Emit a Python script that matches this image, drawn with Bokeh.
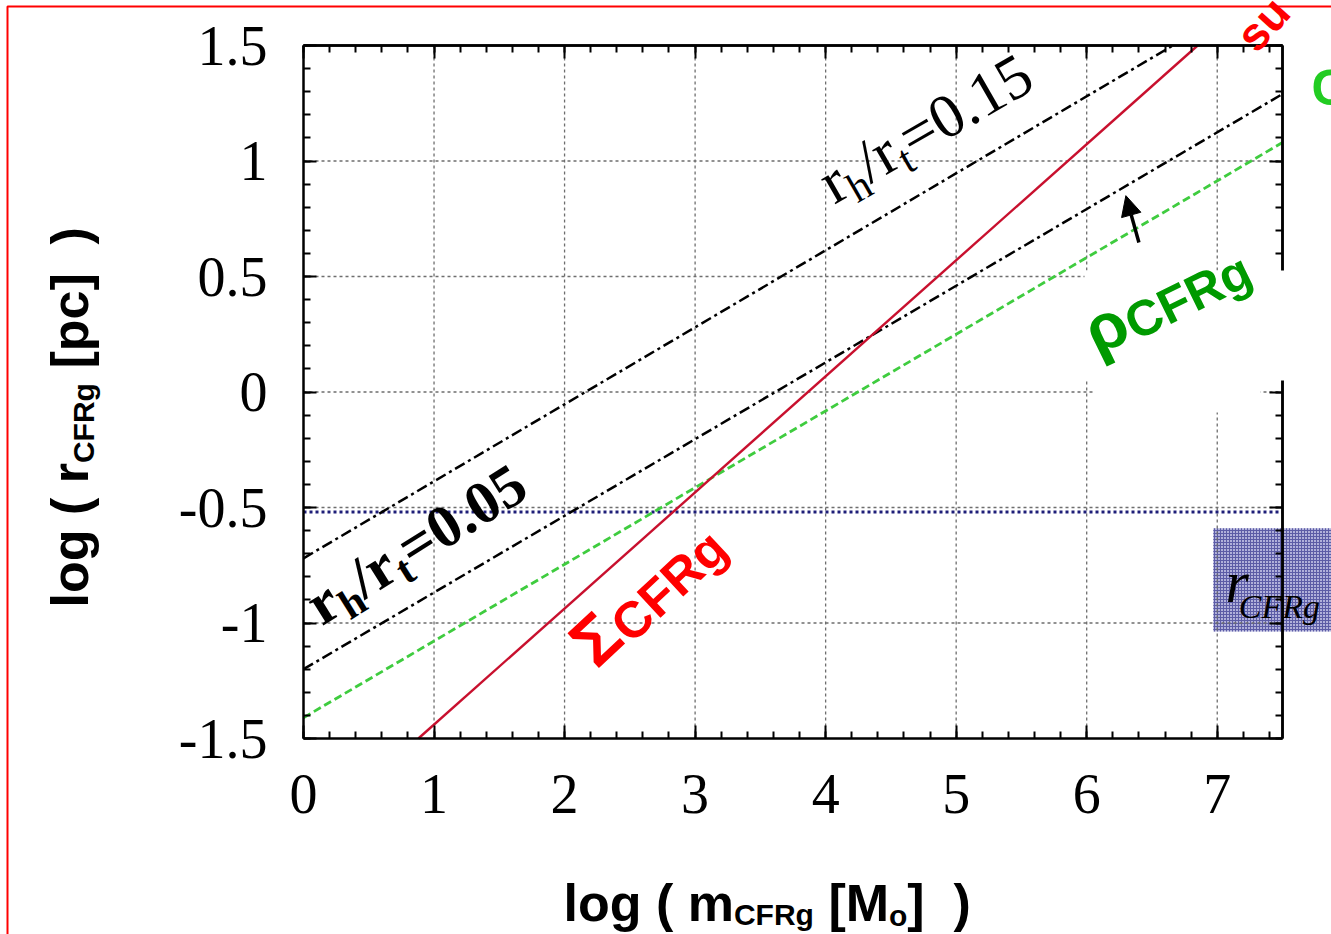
import math
from bokeh.plotting import figure
from bokeh.models import (Range1d, LinearAxis, FixedTicker, Label, BoxAnnotation,
                          Arrow, NormalHead)
from bokeh.embed import file_html
from bokeh.resources import INLINE

# ---------------- data ----------------
x_ticks = [0, 1, 2, 3, 4, 5, 6, 7]
y_ticks = [-1.5, -1.0, -0.5, 0.0, 0.5, 1.0, 1.5]
y_tick_labels = ["-1.5", "-1", "-0.5", "0", "0.5", "1", "1.5"]

# rho_CFRg line (green dashed)
rho_m = [0.0, 7.5]
rho_r = [-1.41, 1.08]
# Sigma_CFRg line (red solid)
sig_m = [0.88, 6.85]
sig_r = [-1.5, 1.5]
# r_h/r_t = 0.05 (black dash-dot)
rh005_m = [0.0, 7.5]
rh005_r = [-1.20, 1.29]
# r_h/r_t = 0.15 (black dash-dot)
rh015_m = [0.0, 6.66]
rh015_r = [-0.72, 1.5]
# r_CFRg limit (blue dotted)
rlim_m = [0.0, 7.5]
rlim_r = [-0.52, -0.52]

# ---------------- layout geometry (pixels) ----------------
W, H = 1331, 934
FL, FR, FT, FB = 303, 1282, 45, 738          # plotted box edges
XLO, XHI, YLO, YHI = 0.0, 7.5, -1.5, 1.5
SX = (FR - FL) / (XHI - XLO)
SY = (FB - FT) / (YHI - YLO)

def dx(px):
    return XLO + (px - FL) / SX

def dy(py):
    return YHI - (py - FT) / SY

p = figure(width=W, height=H, output_backend="svg", toolbar_location=None,
           x_range=Range1d(dx(0), dx(W)), y_range=Range1d(dy(H), dy(0)),
           x_axis_location=None, y_axis_location=None, min_border=0)
p.outline_line_color = None
p.background_fill_color = "white"
p.border_fill_color = "white"
p.xgrid.visible = False
p.ygrid.visible = False

x_minor = [i * 0.2 for i in range(0, 38)]
y_minor = [-1.5 + i * 0.1 for i in range(0, 31)]

def style_axis(ax):
    ax.axis_line_width = 2.5
    ax.axis_line_color = "black"
    ax.major_tick_in = 13
    ax.major_tick_out = 0
    ax.minor_tick_in = 7
    ax.minor_tick_out = 0
    ax.major_tick_line_width = 2
    ax.minor_tick_line_width = 2
    ax.major_tick_line_color = "black"
    ax.minor_tick_line_color = "black"
    ax.major_label_text_font = "Liberation Serif"
    ax.major_label_text_font_size = "56px"
    ax.major_label_text_color = "black"

bottom = LinearAxis(ticker=FixedTicker(ticks=x_ticks, minor_ticks=x_minor),
                    fixed_location=YLO, bounds=(XLO, XHI))
style_axis(bottom)
bottom.major_label_standoff = 36
left = LinearAxis(ticker=FixedTicker(ticks=y_ticks, minor_ticks=y_minor),
                  fixed_location=XLO, bounds=(YLO, YHI))
style_axis(left)
left.major_label_standoff = 36
left.major_label_overrides = {t: s for t, s in zip(y_ticks, y_tick_labels)}
p.add_layout(bottom, "below")
p.add_layout(left, "left")

# mirrored ticks on top and right (no labels): one axis for long, one for short ticks
for side, ticks, minor, loc, bnd in (("above", x_ticks, x_minor, YHI, (XLO, XHI)),
                                     ("right", y_ticks, y_minor, XHI, (YLO, YHI))):
    for tl, tks in ((13, ticks), (7, minor)):
        ax = LinearAxis(ticker=FixedTicker(ticks=[], minor_ticks=tks),
                        fixed_location=loc, bounds=bnd)
        style_axis(ax)
        ax.minor_tick_in = tl
        p.add_layout(ax, side)

# blue shaded box (behind everything else)
p.add_layout(BoxAnnotation(left=6.97, right=dx(W + 20), top=-0.59, bottom=-1.037,
                           fill_color="#b0b0da", fill_alpha=1.0,
                           hatch_pattern="+", hatch_color="#5c5ca6", hatch_scale=3,
                           hatch_weight=1, line_color=None, level="underlay"))

# dotted grid at the major ticks, inside the box
gx = x_ticks[1:]
p.segment(x0=gx, y0=[YLO] * len(gx), x1=gx, y1=[YHI] * len(gx),
          line_color="#6e6e6e", line_width=1.3, line_dash="3 3")
gy = y_ticks[1:-1]
p.segment(x0=[XLO] * len(gy), y0=gy, x1=[XHI] * len(gy), y1=gy,
          line_color="#6e6e6e", line_width=1.3, line_dash="3 3")

# lines
p.line(rlim_m, rlim_r, line_color="#1e1e78", line_width=3, line_dash="3 3")
p.line(rho_m, rho_r, line_color="#3fcc3f", line_width=2.8, line_dash="8 4")
p.line(rh005_m, rh005_r, line_color="black", line_width=2.5, line_dash="11 4 3 4")
p.line(rh015_m, rh015_r, line_color="black", line_width=2.5, line_dash="11 4 3 4")
p.line(sig_m, sig_r, line_color="#c8102e", line_width=2.4)

# white patches from the slide overlay
p.add_layout(BoxAnnotation(left=dx(1084), right=dx(W + 20), top=dy(270), bottom=dy(380),
                           fill_color="white", fill_alpha=1.0, line_color=None))
p.add_layout(BoxAnnotation(left=dx(1093), right=dx(1260), top=dy(380), bottom=dy(412),
                           fill_color="white", fill_alpha=1.0, line_color=None))

# arrow
p.add_layout(Arrow(end=NormalHead(size=20, fill_color="black", line_color="black"),
                   x_start=6.40, y_start=0.647, x_end=6.30, y_end=0.85,
                   line_width=3.5, line_color="black"))

# --------- rich text helper (pieces along a rotated baseline) ---------
ARIAL_B = {" ": .278, "(": .333, ")": .333, "[": .333, "]": .333, "l": .278, "o": .611,
           "g": .611, "m": .889, "r": .389, "p": .611, "c": .556, "C": .722, "F": .611,
           "R": .722, "M": .833, "Σ": .62, "ρ": .62, "s": .556, "u": .611}
TIMES = {"r": .333, "h": .5, "/": .278, "t": .278, "=": .564, ".": .25}
TIMES_B = {"r": .444, "h": .556, "/": .278, "t": .333, "=": .570, ".": .25}
TIMES_I = {"r": .389, "C": .667, "F": .611, "R": .611, "g": .5}
BASE_FIX = 0.22   # raise so that the alphabetic baseline lands on the anchor

def rich(pieces, px, py, angle_deg):
    a = math.radians(angle_deg)
    ux, uy = math.cos(a), math.sin(a)
    nx, ny = math.sin(a), -math.cos(a)
    adv = 0.0
    for text, size, shift, font, fstyle, color, widths in pieces:
        lead = len(text) - len(text.lstrip(" "))
        adv += size * widths.get(" ", .278) * lead
        text = text.lstrip(" ")
        s = shift - BASE_FIX * size
        ox = adv * ux + s * nx
        oy = adv * uy + s * ny
        p.add_layout(Label(x=dx(px), y=dy(py), x_offset=ox, y_offset=oy, text=text,
                           angle=a, text_font=font, text_font_style=fstyle,
                           text_font_size=f"{size}px", text_color=color,
                           text_baseline="alphabetic", text_align="left"))
        adv += size * sum(widths.get(ch, 0.5) for ch in text)

SANS = "Liberation Sans"
SERIF = "Liberation Serif"
K = "black"

# axis titles
rich([("log ( m", 52, 0, SANS, "bold", K, ARIAL_B),
      ("CFRg", 30, 7, SANS, "bold", K, ARIAL_B),
      (" [M", 52, 0, SANS, "bold", K, ARIAL_B),
      ("o", 30, 8, SANS, "bold", K, ARIAL_B),
      ("]", 52, 0, SANS, "bold", K, ARIAL_B),
      ("  )", 52, 0, SANS, "bold", K, ARIAL_B)], 563, 914, 0)
rich([("log ( r", 52, 0, SANS, "bold", K, ARIAL_B),
      ("CFRg", 30, 9, SANS, "bold", K, ARIAL_B),
      (" [pc]", 52, 0, SANS, "bold", K, ARIAL_B),
      ("  )", 52, 0, SANS, "bold", K, ARIAL_B)], 81, 607, 90)

# line annotations
rich([("r", 62, 0, SERIF, "normal", K, TIMES),
      ("h", 42, 13, SERIF, "normal", K, TIMES),
      ("/r", 62, 0, SERIF, "normal", K, TIMES),
      ("t", 42, 13, SERIF, "normal", K, TIMES),
      ("=0.15", 62, 0, SERIF, "normal", K, TIMES)], 830, 198, 30)
rich([("r", 60, 0, SERIF, "bold", K, TIMES_B),
      ("h", 42, 12, SERIF, "bold", K, TIMES_B),
      ("/r", 60, 0, SERIF, "bold", K, TIMES_B),
      ("t", 42, 12, SERIF, "bold", K, TIMES_B),
      ("=0.05", 60, 0, SERIF, "bold", K, TIMES_B)], 318, 620, 32)
rich([("Σ", 68, 0, SANS, "bold", "#ff0000", ARIAL_B),
      ("CFRg", 51, 8, SANS, "bold", "#ff0000", ARIAL_B)], 590, 663, 43)
rich([("ρ", 66, 0, SANS, "bold", "#009a00", ARIAL_B),
      ("CFRg", 50, 6, SANS, "bold", "#009a00", ARIAL_B)], 1093, 348, 26)
rich([("r", 60, 0, SERIF, "italic", K, {"r": .22}),
      ("CFRg", 34, 18, SERIF, "italic", K, TIMES_I)], 1225, 595, 0)

# fragments of slide text cut by the picture edge
rich([("su", 46, 0, SANS, "bold", "#ff0000", ARIAL_B)], 1252, 50, 48)
rich([("C", 50, 0, SANS, "bold", "#22cc22", ARIAL_B)], 1311, 98, 0)

# slide frame (red)
p.add_layout(BoxAnnotation(left=dx(7), right=dx(W + 60), top=dy(6), bottom=dy(H + 60),
                           fill_alpha=0, line_color="#ff0000", line_alpha=1.0,
                           line_width=2))

open("out.html", "w").write(file_html(p, INLINE))
